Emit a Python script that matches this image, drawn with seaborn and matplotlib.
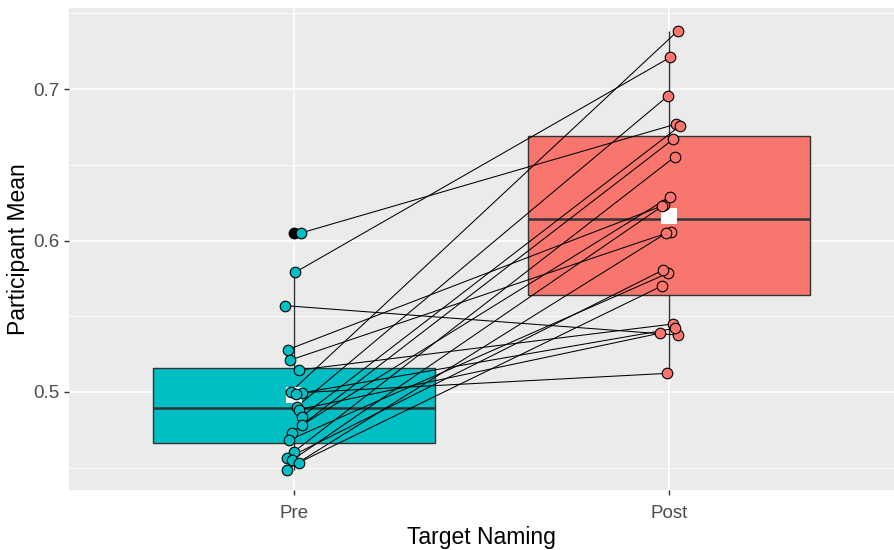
import matplotlib
matplotlib.use('Agg')
import matplotlib.pyplot as plt
from matplotlib.ticker import MultipleLocator
import pandas as pd
import numpy as np
import seaborn as sns

# paired participant means (same index = same participant)
pre_vals = [0.605, 0.579, 0.557, 0.528, 0.521, 0.5145, 0.5002, 0.4996, 0.4987, 0.4904,
            0.4884, 0.4838, 0.4782, 0.4732, 0.4683, 0.4606, 0.4562, 0.4550, 0.4534, 0.4487]
post_vals = [0.6769, 0.7209, 0.5376, 0.6234, 0.6058, 0.5449, 0.7385, 0.5123, 0.5420, 0.6954,
             0.5388, 0.6756, 0.6290, 0.6668, 0.5784, 0.6553, 0.5805, 0.6225, 0.5700, 0.6048]
# horizontal jitter (category units)
pre_jit = [0.019, 0.003, -0.024, -0.016, -0.011, 0.013, -0.008, 0.021, 0.005, 0.008,
           0.013, 0.021, 0.021, -0.005, -0.013, 0.0, -0.019, -0.005, 0.013, -0.019]
post_jit = [0.019, 0.003, 0.024, -0.013, 0.005, 0.011, 0.024, -0.005, 0.016, -0.003,
            -0.024, 0.029, 0.003, 0.011, -0.003, 0.016, -0.016, -0.019, -0.019, -0.008]

phases = ['Pre', 'Post']
colors = {'Pre': '#00BFC4', 'Post': '#F8766D'}

df = pd.DataFrame({'phase': ['Pre'] * len(pre_vals) + ['Post'] * len(post_vals),
                   'value': pre_vals + post_vals})

sns.set_theme(style='darkgrid', rc={'axes.facecolor': '#EBEBEB', 'grid.color': 'white'})
plt.rcParams['font.family'] = ['Liberation Sans', 'DejaVu Sans']

fig = plt.figure(figsize=(8.94, 5.5), dpi=100)
ax = fig.add_axes([69 / 894, 1 - 490 / 550, 1 - 69 / 894, 482 / 550])

sns.boxplot(data=df, x='phase', y='value', hue='phase', order=phases, palette=colors,
            saturation=1, width=0.75, whis=1.5, linecolor='#333333', linewidth=1.0,
            legend=False, showcaps=False, medianprops=dict(linewidth=1.8, color='#333333'),
            flierprops=dict(marker='o', markerfacecolor='black', markeredgecolor='black',
                            markersize=7.5), ax=ax, zorder=2)

pre_x = np.array(pre_jit) + 0
post_x = np.array(post_jit) + 1
for i in range(len(pre_vals)):
    ax.plot([pre_x[i], post_x[i]], [pre_vals[i], post_vals[i]], color='black',
            lw=0.75, zorder=3)

# group means
ax.scatter([0, 1], [np.mean(pre_vals), np.mean(post_vals)], marker='s', s=120,
           color='white', zorder=4, linewidths=0)

ax.scatter(pre_x, pre_vals, s=58, color=colors['Pre'], edgecolor='black', linewidth=0.8, zorder=5)
ax.scatter(post_x, post_vals, s=58, color=colors['Post'], edgecolor='black', linewidth=0.8, zorder=5)

ax.set_xlim(-0.6, 1.6)
ax.set_ylim(0.4353, 0.7535)
ax.set_yticks([0.5, 0.6, 0.7])
ax.set_yticklabels(['0.5', '0.6', '0.7'])
ax.yaxis.set_minor_locator(MultipleLocator(0.05))
ax.grid(which='major', color='white', lw=1.2)
ax.grid(which='minor', axis='y', color='white', lw=0.6)
ax.set_axisbelow(True)
for s in ax.spines.values():
    s.set_visible(False)
ax.tick_params(axis='both', which='major', length=3.5, width=1, color='#333333',
               labelsize=13.5, labelcolor='#4D4D4D', pad=3, bottom=True, left=True)
ax.tick_params(axis='x', which='major', pad=7)
ax.tick_params(axis='y', which='minor', length=0)
ax.set_xlabel('Target Naming', fontsize=16.5, color='black', labelpad=3)
ax.set_ylabel('Participant Mean', fontsize=16.5, color='black', labelpad=3)

fig.savefig('out.png', dpi=100)
